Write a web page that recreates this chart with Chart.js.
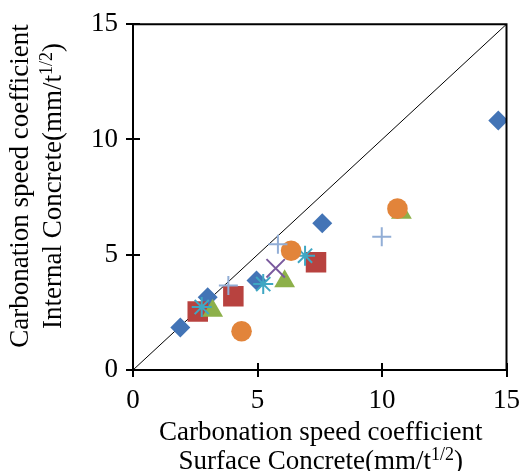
<!DOCTYPE html>
<html>
<head>
<meta charset="utf-8">
<script src="https://cdn.jsdelivr.net/npm/chart.js@4/dist/chart.umd.min.js"></script>
<style>
  html, body { margin: 0; padding: 0; background: #fff; }
</style>
</head>
<body>
<canvas id="carbChart" width="528" height="471"></canvas>
<script>
// values (surface x, internal y)
const diamondX = [1.9, 3.0, 4.96, 7.6, 14.67];
const diamondY = [1.84, 3.16, 3.88, 6.37, 10.82];
const squareX = [2.6, 4.03, 7.35];
const squareY = [2.54, 3.2, 4.67];
const triangleX = [3.2, 6.09, 10.78];
const triangleY = [2.57, 3.85, 6.82];
const crossX = [5.73];
const crossY = [4.41];
const starX = [2.76, 5.23, 6.91];
const starY = [2.73, 3.73, 4.96];
const circleX = [4.36, 6.35, 10.62];
const circleY = [1.68, 5.17, 7.0];
const plusX = [3.83, 5.82, 9.99];
const plusY = [3.66, 5.46, 5.78];

const lineX = [0, 15];
const lineY = [0, 15];
const axisTicks = [0, 5, 10, 15];

const xTitle1 = 'Carbonation speed coefficient';
const xTitle2 = ['Surface Concrete(mm/t', '1/2', ')'];
const yTitle1 = 'Carbonation speed coefficient';
const yTitle2 = ['Internal Concrete(mm/t', '1/2', ')'];

const FONT = '"Liberation Serif", "Times New Roman", serif';

function pts(xs, ys) {
    return xs.map((x, i) => ({ x: x, y: ys[i] }));
}

function drawSupText(ctx, parts, cx, y) {
    ctx.font = '27px ' + FONT;
    const w1 = ctx.measureText(parts[0]).width;
    const w3 = ctx.measureText(parts[2]).width;
    ctx.font = '18px ' + FONT;
    const w2 = ctx.measureText(parts[1]).width;
    let x = cx - (w1 + w2 + w3) / 2;
    ctx.textAlign = 'left';
    ctx.textBaseline = 'alphabetic';
    ctx.font = '27px ' + FONT;
    ctx.fillText(parts[0], x, y);
    x += w1;
    ctx.font = '18px ' + FONT;
    ctx.fillText(parts[1], x, y - 9);
    x += w2;
    ctx.font = '27px ' + FONT;
    ctx.fillText(parts[2], x, y);
}

// frame, inner tick marks and the two-line axis titles
const framePlugin = {
    id: 'frame',
    afterDraw(chart) {
        const ctx = chart.ctx;
        const a = chart.chartArea;
        const sx = chart.scales.x;
        const sy = chart.scales.y;
        ctx.save();
        ctx.strokeStyle = '#000';
        ctx.lineWidth = 2;
        ctx.beginPath();
        ctx.moveTo(a.left, a.top);
        ctx.lineTo(a.right, a.top);
        ctx.lineTo(a.right, a.bottom);
        ctx.stroke();
        ctx.beginPath();
        axisTicks.forEach(v => {
            const px = Math.round(sx.getPixelForValue(v));
            ctx.moveTo(px, a.bottom);
            ctx.lineTo(px, a.bottom - 7);
            const py = Math.round(sy.getPixelForValue(v));
            ctx.moveTo(a.left, py);
            ctx.lineTo(a.left + 7, py);
        });
        ctx.stroke();

        ctx.fillStyle = '#000';
        ctx.font = '27px ' + FONT;
        ctx.textAlign = 'center';
        ctx.textBaseline = 'alphabetic';
        const cx = (a.left + a.right) / 2 + 1;
        ctx.fillText(xTitle1, cx, 440);
        drawSupText(ctx, xTitle2, cx, 469);

        ctx.translate(0, 186);
        ctx.rotate(-Math.PI / 2);
        ctx.font = '27px ' + FONT;
        ctx.textAlign = 'center';
        ctx.fillText(yTitle1, 0, 28);
        drawSupText(ctx, yTitle2, 0, 61);
        ctx.restore();
    }
};

const blue = '#4374B6';
const red = '#B8423F';
const green = '#8DB04A';
const purple = '#7A5A9E';
const cyan = '#3FA7C3';
const orange = '#E2843A';
const lightBlue = '#92AED6';

new Chart(document.getElementById('carbChart'), {
    type: 'scatter',
    data: {
        datasets: [
            { data: pts(diamondX, diamondY), pointStyle: 'rectRot', pointRadius: 10, backgroundColor: blue, borderColor: blue, borderWidth: 0, order: 7 },
            { data: pts(squareX, squareY), pointStyle: 'rect', pointRadius: 14.5, backgroundColor: red, borderColor: red, borderWidth: 0, order: 6 },
            { data: pts(triangleX, triangleY), pointStyle: 'triangle', pointRadius: 12, backgroundColor: green, borderColor: green, borderWidth: 0, order: 5 },
            { data: pts(crossX, crossY), pointStyle: 'crossRot', pointRadius: 13, backgroundColor: purple, borderColor: purple, borderWidth: 2, order: 4 },
            { data: pts(starX, starY), pointStyle: 'star', pointRadius: 10, backgroundColor: cyan, borderColor: cyan, borderWidth: 2, order: 3 },
            { data: pts(circleX, circleY), pointStyle: 'circle', pointRadius: 10.3, backgroundColor: orange, borderColor: orange, borderWidth: 0, order: 2 },
            { data: pts(plusX, plusY), pointStyle: 'cross', pointRadius: 9.5, backgroundColor: lightBlue, borderColor: lightBlue, borderWidth: 2, order: 1 },
            {
                type: 'line',
                data: pts(lineX, lineY),
                borderColor: '#000',
                borderWidth: 1,
                pointRadius: 0,
                fill: false,
                order: 10
            }
        ]
    },
    options: {
        responsive: false,
        animation: false,
        devicePixelRatio: 1,
        layout: { padding: { top: 22, right: 18, left: 0, bottom: 0 } },
        plugins: {
            legend: { display: false },
            tooltip: { enabled: false }
        },
        scales: {
            x: {
                type: 'linear',
                min: 0,
                max: 15,
                afterBuildTicks: s => { s.ticks = axisTicks.map(v => ({ value: v })); },
                afterFit: s => { s.height = 101; },
                border: { color: '#000', width: 2 },
                grid: { drawOnChartArea: false, tickLength: 7, color: '#000', lineWidth: 2 },
                ticks: { color: '#000', padding: 8, maxRotation: 0, font: { family: FONT, size: 27 } }
            },
            y: {
                type: 'linear',
                min: 0,
                max: 15,
                afterBuildTicks: s => { s.ticks = axisTicks.map(v => ({ value: v })); },
                afterFit: s => { s.width = 133; },
                border: { color: '#000', width: 2 },
                grid: { drawOnChartArea: false, tickLength: 7, color: '#000', lineWidth: 2 },
                ticks: { color: '#000', padding: 8, font: { family: FONT, size: 27 } }
            }
        }
    },
    plugins: [framePlugin]
});
</script>
</body>
</html>
